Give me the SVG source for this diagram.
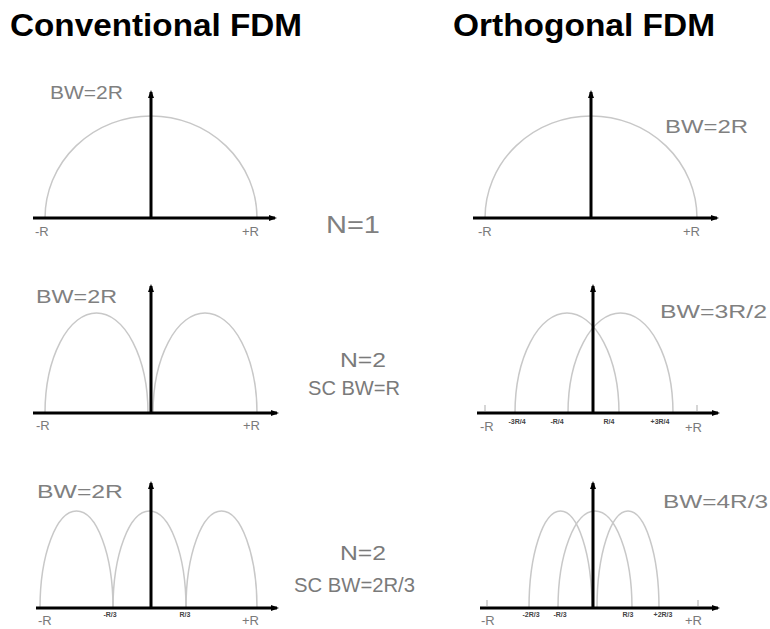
<svg xmlns="http://www.w3.org/2000/svg" width="770" height="629" viewBox="0 0 770 629">
<defs>
<marker id="ah" markerUnits="userSpaceOnUse" markerWidth="8" markerHeight="6" refX="6" refY="3" orient="auto">
<path d="M0,0 L8,3 L0,6 z" fill="#000"/>
</marker>
<style>
.ax{stroke:#000;stroke-width:3;fill:none;marker-end:url(#ah)}
.arc{stroke:#c8c8c8;stroke-width:1.5;fill:none}
.tick{stroke:#c8c8c8;stroke-width:1.5}
.title{font-family:"Liberation Sans",Arial,sans-serif;font-weight:bold;font-size:31px;fill:#000}
.bw{font-family:"Liberation Sans",Arial,sans-serif;font-size:18px;fill:#808080}
.n{font-family:"Liberation Sans",Arial,sans-serif;font-size:24px;fill:#808080}
.n2{font-family:"Liberation Sans",Arial,sans-serif;font-size:21px;fill:#7a7a7a}
.r{font-family:"Liberation Sans",Arial,sans-serif;font-size:13px;fill:#7a7a7a}
.s{font-family:"Liberation Sans",Arial,sans-serif;font-size:7px;font-weight:bold;fill:#444;text-anchor:middle}
</style>
</defs>
<rect width="770" height="629" fill="#fff"/>

<g id="titles">
<text class="title" x="10" y="36" textLength="292" lengthAdjust="spacingAndGlyphs">Conventional FDM</text>
<text class="title" x="453" y="36" textLength="262" lengthAdjust="spacingAndGlyphs">Orthogonal FDM</text>
</g>

<g id="center-labels">
<text class="n" x="326" y="233" textLength="54" lengthAdjust="spacingAndGlyphs">N=1</text>
<text class="n2" x="340" y="367" textLength="46" lengthAdjust="spacingAndGlyphs">N=2</text>
<text class="n2" x="308" y="395" textLength="92" lengthAdjust="spacingAndGlyphs">SC BW=R</text>
<text class="n2" x="340" y="560" textLength="46" lengthAdjust="spacingAndGlyphs">N=2</text>
<text class="n2" x="294" y="592" textLength="121" lengthAdjust="spacingAndGlyphs">SC BW=2R/3</text>
</g>

<g id="panel-conv-1">
<path class="arc" d="M45,218 A106,102 0 0 1 257,218"/>
<line class="ax" x1="33" y1="218" x2="275" y2="218"/>
<line class="ax" x1="151" y1="218" x2="151" y2="92"/>
<text class="bw" x="50" y="99" textLength="73" lengthAdjust="spacingAndGlyphs">BW=2R</text>
<text class="r" x="35" y="236">-R</text>
<text class="r" x="242" y="236">+R</text>
</g>

<g id="panel-ofdm-1">
<path class="arc" d="M485,218 A106,102 0 0 1 697,218"/>
<line class="ax" x1="473" y1="218" x2="717" y2="218"/>
<line class="ax" x1="591" y1="218" x2="591" y2="92"/>
<text class="bw" x="665" y="133" textLength="83" lengthAdjust="spacingAndGlyphs">BW=2R</text>
<text class="r" x="478" y="236">-R</text>
<text class="r" x="683" y="236">+R</text>
</g>

<g id="panel-conv-2">
<path class="arc" d="M45,413 A51.5,100 0 0 1 148,413"/>
<path class="arc" d="M153,413 A52,100 0 0 1 257,413"/>
<line class="ax" x1="33" y1="413" x2="277" y2="413"/>
<line class="ax" x1="151" y1="413" x2="151" y2="286"/>
<text class="bw" x="36" y="303" textLength="81" lengthAdjust="spacingAndGlyphs">BW=2R</text>
<text class="r" x="36" y="430">-R</text>
<text class="r" x="243" y="430">+R</text>
</g>

<g id="panel-ofdm-2">
<path class="arc" d="M515,413 A52,100 0 0 1 619,413"/>
<path class="arc" d="M568,413 A52.5,100 0 0 1 673,413"/>
<line class="tick" x1="485" y1="405" x2="485" y2="411"/>
<line class="tick" x1="697" y1="405" x2="697" y2="411"/>
<line class="ax" x1="477" y1="413" x2="718" y2="413"/>
<line class="ax" x1="593" y1="413" x2="593" y2="286"/>
<text class="bw" x="660" y="318" textLength="107" lengthAdjust="spacingAndGlyphs">BW=3R/2</text>
<text class="r" x="480" y="431">-R</text>
<text class="r" x="685" y="432">+R</text>
<text class="s" x="517" y="424">-3R/4</text>
<text class="s" x="557" y="424">-R/4</text>
<text class="s" x="609" y="424">R/4</text>
<text class="s" x="660" y="424">+3R/4</text>
</g>

<g id="panel-conv-3">
<path class="arc" d="M40,608 A36.5,97 0 0 1 113,608"/>
<path class="arc" d="M113,608 A36.5,97 0 0 1 186,608"/>
<path class="arc" d="M186,608 A35.5,97 0 0 1 257,608"/>
<line class="ax" x1="36" y1="608" x2="277" y2="608"/>
<line class="ax" x1="151" y1="608" x2="151" y2="483"/>
<text class="bw" x="37" y="498" textLength="86" lengthAdjust="spacingAndGlyphs">BW=2R</text>
<text class="r" x="38" y="625">-R</text>
<text class="r" x="242" y="625">+R</text>
<text class="s" x="110" y="617">-R/3</text>
<text class="s" x="185" y="617">R/3</text>
</g>

<g id="panel-ofdm-3">
<path class="arc" d="M529,608 A31.5,97 0 0 1 592,608"/>
<path class="arc" d="M558,608 A37,97 0 0 1 632,608"/>
<path class="arc" d="M597,608 A31,97 0 0 1 659,608"/>
<line class="tick" x1="487" y1="600" x2="487" y2="606"/>
<line class="tick" x1="698" y1="600" x2="698" y2="606"/>
<line class="ax" x1="480" y1="608" x2="718" y2="608"/>
<line class="ax" x1="593" y1="608" x2="593" y2="483"/>
<text class="bw" x="663" y="508" textLength="105" lengthAdjust="spacingAndGlyphs">BW=4R/3</text>
<text class="r" x="481" y="625">-R</text>
<text class="r" x="685" y="625">+R</text>
<text class="s" x="531" y="617">-2R/3</text>
<text class="s" x="560" y="617">-R/3</text>
<text class="s" x="628" y="617">R/3</text>
<text class="s" x="663" y="617">+2R/3</text>
</g>
</svg>
